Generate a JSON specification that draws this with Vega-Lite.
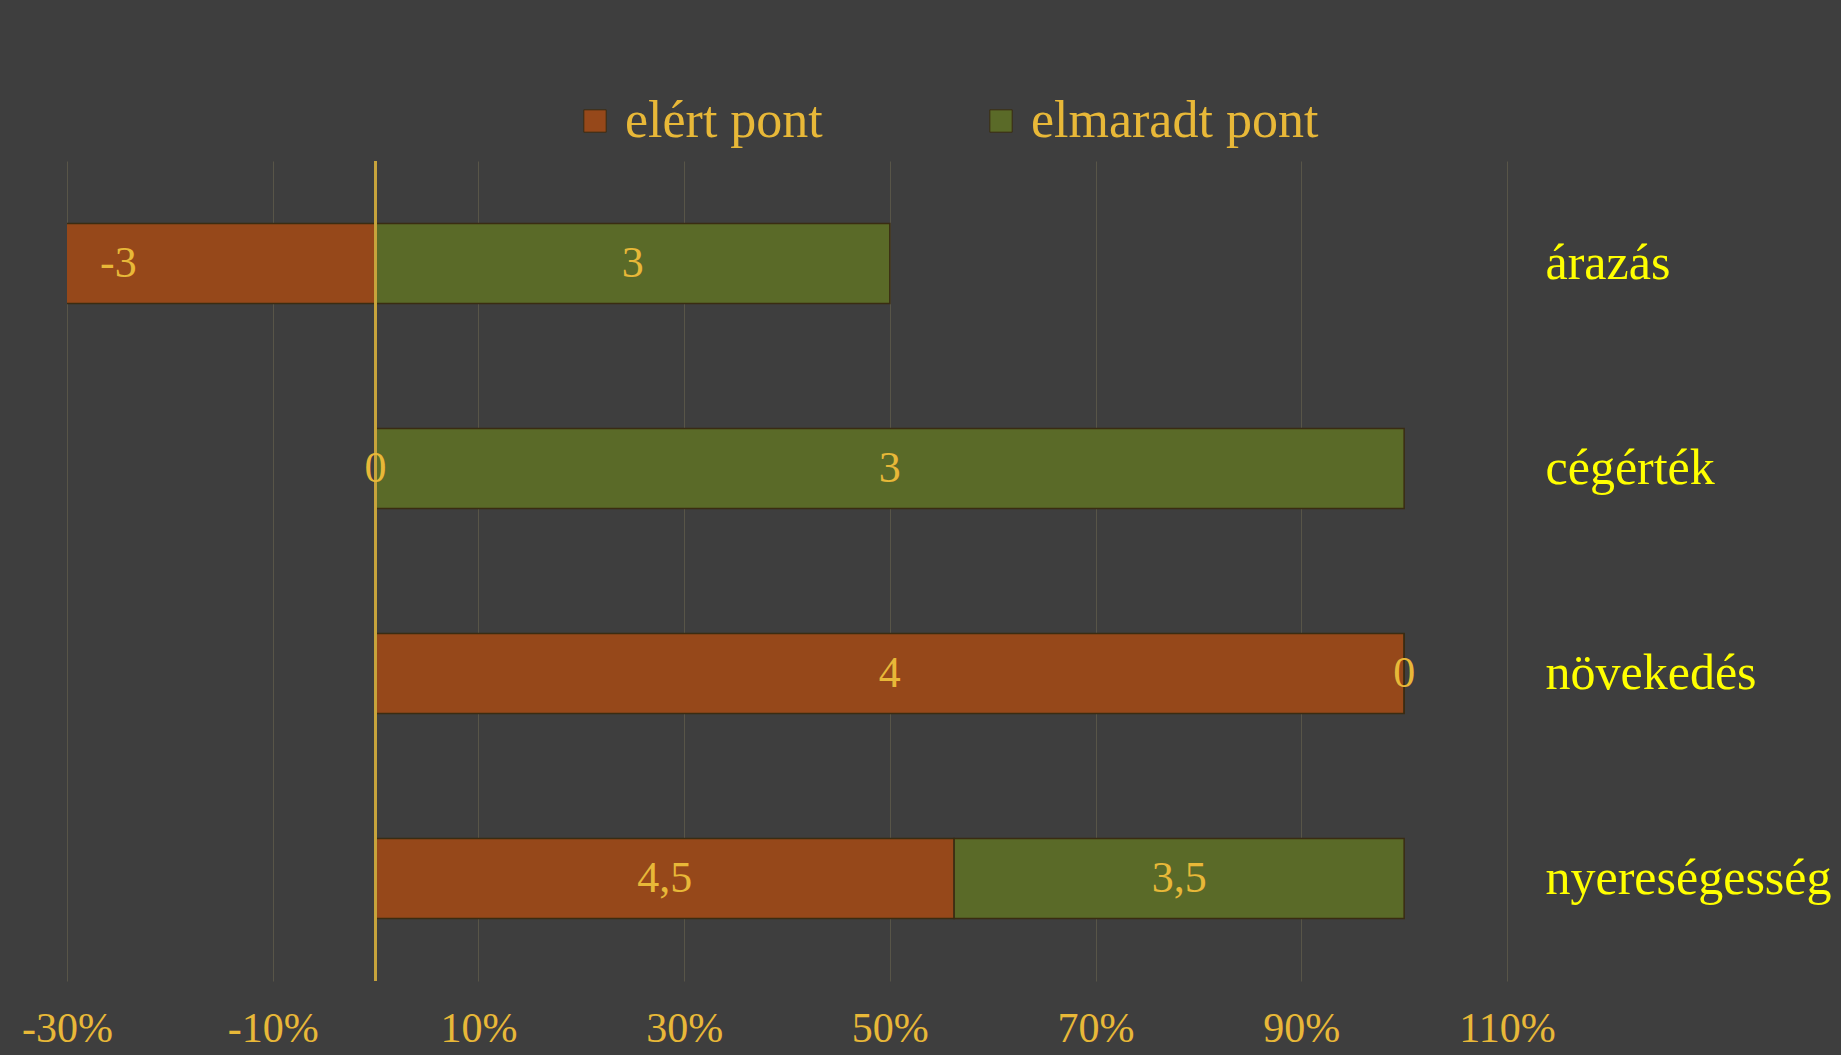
{
  "$schema": "https://vega.github.io/schema/vega-lite/v6.json",
  "autosize": {"type": "none"},
  "width": 1440,
  "height": 820,
  "padding": {"left": 67, "top": 161, "right": 334, "bottom": 75},
  "background": "#3e3e3e",
  "config": {
    "view": {"stroke": null},
    "font": "Liberation Serif"
  },
  "data": {
    "values": [
      {"kat": "árazás", "sor": "elért pont", "ord": 1, "arany": -0.5, "cimke": "-3"},
      {"kat": "árazás", "sor": "elmaradt pont", "ord": 2, "arany": 0.5, "cimke": "3"},
      {"kat": "cégérték", "sor": "elért pont", "ord": 1, "arany": 0, "cimke": "0"},
      {"kat": "cégérték", "sor": "elmaradt pont", "ord": 2, "arany": 1, "cimke": "3"},
      {"kat": "növekedés", "sor": "elért pont", "ord": 1, "arany": 1, "cimke": "4"},
      {"kat": "növekedés", "sor": "elmaradt pont", "ord": 2, "arany": 0, "cimke": "0"},
      {"kat": "nyereségesség", "sor": "elért pont", "ord": 1, "arany": 0.5625, "cimke": "4,5"},
      {"kat": "nyereségesség", "sor": "elmaradt pont", "ord": 2, "arany": 0.4375, "cimke": "3,5"}
    ]
  },
  "encoding": {
    "y": {
      "field": "kat",
      "type": "nominal",
      "sort": ["árazás", "cégérték", "növekedés", "nyereségesség"],
      "scale": {"paddingInner": 0.61, "paddingOuter": 0.305},
      "axis": {
        "orient": "right",
        "title": null,
        "domain": false,
        "ticks": false,
        "labelAlign": "left",
        "labelPadding": 38,
        "labelColor": "#FFFF00",
        "labelFontSize": 50,
        "labelFont": "Liberation Serif",
        "labelLimit": 400
      }
    }
  },
  "layer": [
    {
      "mark": {"type": "bar", "clip": true, "stroke": "#3a2c12", "strokeWidth": 1.5},
      "encoding": {
        "x": {
          "field": "arany",
          "type": "quantitative",
          "stack": "zero",
          "scale": {"domain": [-0.3, 1.1], "nice": false, "zero": false},
          "axis": {
            "title": null,
            "values": [-0.3, -0.1, 0.1, 0.3, 0.5, 0.7, 0.9, 1.1],
            "labelExpr": "round(datum.value*100) + '%'",
            "domain": false,
            "ticks": false,
            "grid": true,
            "gridColor": "#6a6650",
            "gridOpacity": 0.6,
            "gridWidth": 1,
            "labelColor": "#E8B838",
            "labelFontSize": 42,
            "labelFont": "Liberation Serif",
            "labelPadding": 27,
            "labelFlush": false
          }
        },
        "color": {
          "field": "sor",
          "type": "nominal",
          "scale": {"domain": ["elért pont", "elmaradt pont"], "range": ["#96481A", "#5A6A28"]},
          "legend": {
            "title": null,
            "orient": "none",
            "legendX": 502,
            "legendY": -66,
            "direction": "horizontal",
            "symbolType": "square",
            "symbolSize": 500,
            "symbolStrokeColor": "#3a2c12",
            "symbolStrokeWidth": 1,
            "labelColor": "#E8B838",
            "labelFontSize": 52,
            "labelFont": "Liberation Serif",
            "labelOffset": 4,
            "columnPadding": 152,
            "labelLimit": 500
          }
        },
        "order": {"field": "ord", "type": "quantitative"}
      }
    },
    {
      "mark": {"type": "rule", "color": "#C8A43C", "strokeWidth": 2},
      "encoding": {"x": {"datum": 0, "type": "quantitative"}, "y": {"value": 0}, "y2": {"value": 820}}
    },
    {
      "mark": {"type": "text", "color": "#E8B838", "fontSize": 44, "font": "Liberation Serif", "baseline": "middle", "align": "center"},
      "encoding": {
        "x": {"field": "arany", "type": "quantitative", "stack": "zero", "bandPosition": 0.5},
        "detail": {"field": "sor"},
        "order": {"field": "ord", "type": "quantitative"},
        "text": {"field": "cimke"}
      }
    }
  ]
}
